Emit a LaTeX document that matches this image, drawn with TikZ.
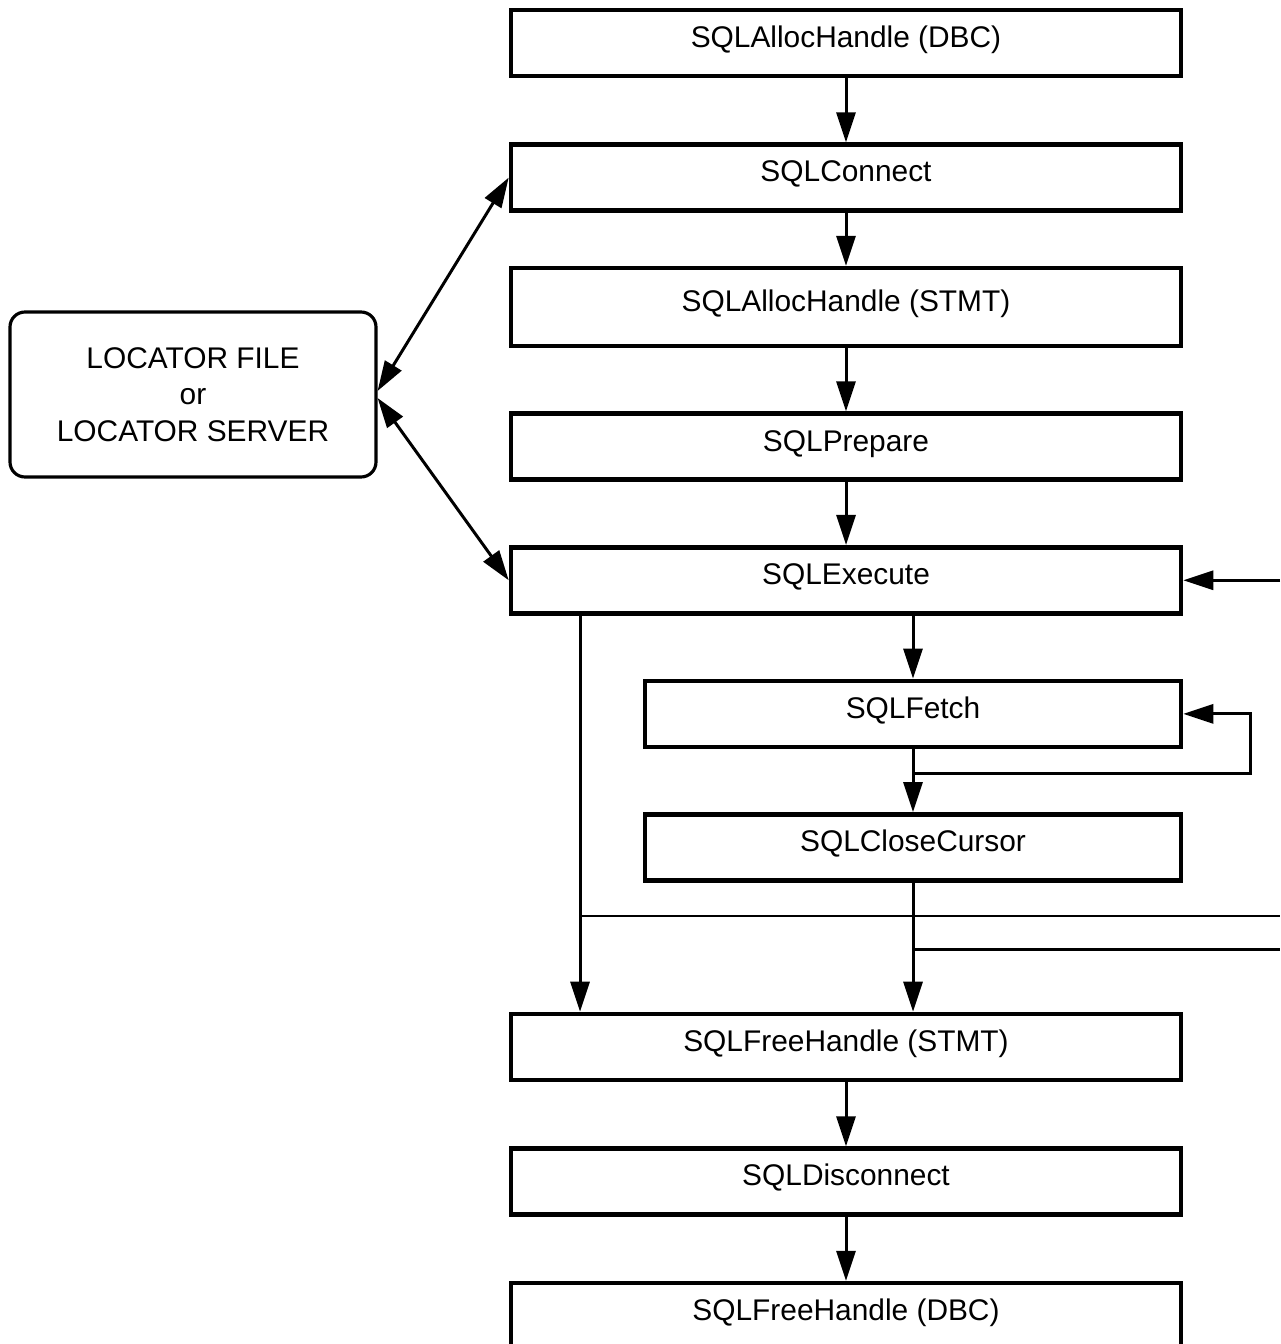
\documentclass[tikz,border=0pt]{standalone}
\usepackage{fontspec}
\setmainfont{Liberation Sans}
\usetikzlibrary{arrows.meta, positioning, calc}

\begin{document}
\begin{tikzpicture}[
  >={Triangle[length=0.6cm, width=0.38cm]},
  node distance=1.28cm,
  callbox/.style={rectangle, draw, line width=2.6pt,
    minimum width=13.4cm, minimum height=1.32cm,
    text height=0.8em, text depth=0.3em,
    font=\fontsize{17pt}{20.8pt}\selectfont},
  locbox/.style={rectangle, draw, rounded corners=0.3cm, line width=1.8pt,
    minimum width=7.32cm, minimum height=3.3cm, align=center,
    font=\fontsize{17pt}{20.8pt}\selectfont},
  flow/.style={draw, ->, line width=1.7pt},
  twoway/.style={draw, <->, line width=1.7pt},
  busline/.style={draw, line width=1.1pt}
]
\useasboundingbox (0,0) rectangle (25.6,-26.88);

% main call sequence
\node[callbox] (allocdbc) at (16.92,-0.86) {SQLAllocHandle (DBC)};
\node[callbox, below=of allocdbc] (connect) {SQLConnect};
\node[callbox, below=1.06cm of connect, minimum height=1.56cm] (allocstmt) {SQLAllocHandle (STMT)};
\node[callbox, below=1.26cm of allocstmt] (prepare) {SQLPrepare};
\node[callbox, below=1.26cm of prepare] (execute) {SQLExecute};
\node[callbox, minimum width=10.72cm, below left=1.26cm and 0cm of execute.south east] (fetch) {SQLFetch};
\node[callbox, minimum width=10.72cm, below=1.26cm of fetch] (closecur) {SQLCloseCursor};
\node[callbox, below left=2.58cm and 0cm of closecur.south east] (freestmt) {SQLFreeHandle (STMT)};
\node[callbox, below=of freestmt] (disconnect) {SQLDisconnect};
\node[callbox, below=of disconnect] (freedbc) {SQLFreeHandle (DBC)};

\node[locbox] (locator) at (3.86,-7.89) {LOCATOR FILE\\or\\LOCATOR SERVER};

% helper coordinates
\coordinate (edge) at (25.6,0);
\coordinate (branch) at (11.6,0);
\coordinate (loopin) at ($(fetch.south)+(0,-0.48)$);
\coordinate (busa) at ($(closecur.south)+(0,-0.66)$);
\coordinate (busb) at ($(closecur.south)+(0,-1.34)$);

\draw[flow] (allocdbc) -- (connect);
\draw[flow] (connect) -- (allocstmt);
\draw[flow] (allocstmt) -- (prepare);
\draw[flow] (prepare) -- (execute);
\draw[flow] (execute.south -| fetch.north) -- (fetch.north);
\draw[flow] (fetch) -- (closecur);
\draw[flow] (loopin) -| ($(fetch.east)+(1.34,0)$) -- (fetch.east);
\draw[flow] (execute.east -| edge) -- (execute.east);
\draw[flow] (execute.south -| branch) -- (freestmt.north -| branch);
\draw[flow] (closecur.south) -- (closecur.south |- freestmt.north);
\draw[busline] (busa -| branch) -- (busa -| edge);
\draw[busline, line width=1.7pt] (busb) -- (busb -| edge);
\draw[flow] (freestmt) -- (disconnect);
\draw[flow] (disconnect) -- (freedbc);

% locator links
\draw[twoway] ([yshift=2pt]locator.east) -- (connect.west);
\draw[twoway] ([yshift=-2pt]locator.east) -- (execute.west);
\end{tikzpicture}
\end{document}
